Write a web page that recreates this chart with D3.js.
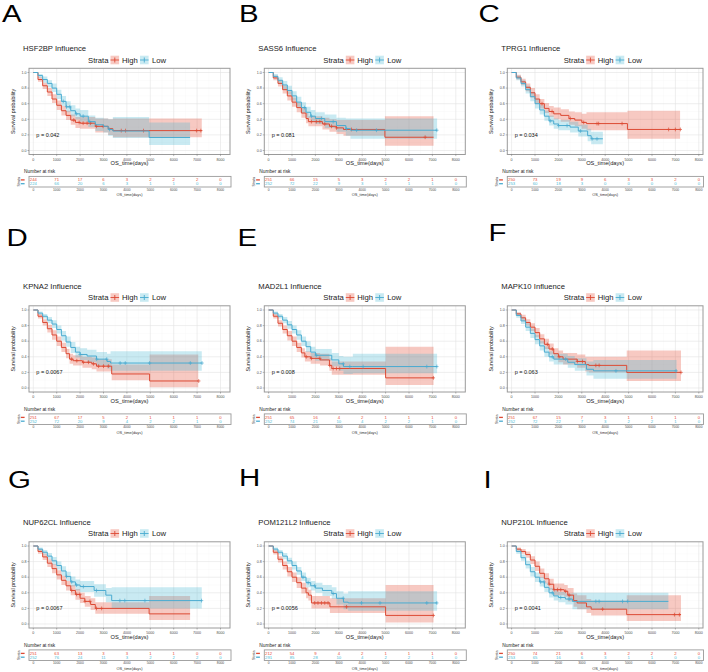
<!DOCTYPE html>
<html><head><meta charset="utf-8">
<script src="https://cdn.jsdelivr.net/npm/d3@7"></script>
<style>body{margin:0;background:#fff}svg{display:block;font-family:"Liberation Sans",Arial,sans-serif}</style>
</head><body><svg id="c" width="708" height="672"></svg>
<script>
const panelLetters = ["A","B","C","D","E","F","G","H","I"];
const genes = ["HSF2BP","SASS6","TPRG1","KPNA2","MAD2L1","MAPK10","NUP62CL","POM121L2","NUP210L"];
const pValues = ["0.042","0.081","0.034","0.0067","0.008","0.063","0.0067","0.0056","0.0041"];
const strata = ["High","Low"];
const strataColors = ["#E64B35","#4DBBD5"];
const lineColors = ["#DC4A34","#4AABD0"];
const xTicks = [0,1000,2000,3000,4000,5000,6000,7000,8000];
const yTicks = [0,0.2,0.4,0.6,0.8,1.0];

const riskHigh = [
  [244,71,17,6,3,2,2,2,0],[251,66,15,5,3,2,2,1,0],[250,73,19,9,6,3,3,2,0],
  [251,67,17,5,2,1,1,1,0],[251,65,16,4,2,1,1,1,0],[251,67,15,7,3,1,1,1,0],
  [251,63,13,3,3,1,1,0,0],[212,54,9,4,2,1,1,1,0],[250,74,21,6,3,2,2,2,0]];
const riskLow = [
  [224,66,20,6,3,1,1,0,0],[252,72,22,9,3,1,1,1,0],[253,60,18,3,0,0,0,0,0],
  [252,72,20,9,4,2,2,1,0],[252,74,21,10,4,2,2,1,0],[252,72,22,7,3,2,2,1,0],
  [252,76,24,11,3,2,2,2,0],[291,85,28,10,4,2,2,1,0],[253,65,16,6,3,1,1,0,0]];

// [time, survival, lower, upper]
const curvesHigh = [
  [[0,1,1,1],[200,.91,.88,.94],[400,.83,.79,.87],[600,.75,.70,.80],[800,.66,.61,.72],[1000,.58,.52,.64],[1200,.51,.45,.57],[1400,.45,.39,.51],[1600,.39,.33,.46],[1800,.36,.29,.43],[2000,.35,.28,.43],[2650,.31,.23,.41],[3200,.28,.20,.40],[3400,.255,.17,.41],[7200,.255,.17,.41]],
  [[0,1,1,1],[200,.93,.90,.96],[400,.86,.82,.90],[600,.78,.73,.83],[800,.70,.64,.76],[1000,.62,.56,.68],[1200,.55,.49,.61],[1400,.48,.42,.55],[1600,.41,.35,.48],[1700,.37,.31,.44],[2300,.34,.27,.42],[2600,.31,.24,.40],[2900,.29,.21,.39],[3200,.27,.19,.39],[4970,.17,.06,.44],[7050,.17,.06,.44]],
  [[0,1,1,1],[200,.94,.91,.97],[400,.88,.84,.92],[600,.81,.76,.86],[800,.74,.68,.80],[1000,.66,.60,.72],[1200,.60,.54,.66],[1400,.54,.48,.61],[1600,.50,.43,.57],[1800,.47,.40,.55],[2100,.45,.37,.53],[2450,.41,.33,.50],[2700,.39,.31,.49],[3000,.36,.28,.47],[3200,.345,.26,.49],[4950,.27,.15,.51],[7200,.27,.15,.51]],
  [[0,1,1,1],[200,.92,.89,.95],[400,.84,.80,.88],[600,.76,.71,.81],[800,.68,.62,.74],[1000,.60,.54,.66],[1200,.52,.46,.58],[1400,.44,.38,.50],[1550,.37,.31,.44],[1700,.35,.29,.42],[2100,.33,.26,.40],[2500,.31,.24,.39],[2700,.28,.21,.37],[3350,.18,.10,.30],[4970,.09,.01,.43],[7050,.09,.01,.43]],
  [[0,1,1,1],[200,.92,.89,.95],[400,.83,.79,.87],[600,.75,.70,.80],[800,.67,.61,.73],[1000,.60,.54,.66],[1200,.52,.46,.58],[1400,.45,.39,.51],[1550,.40,.34,.47],[1800,.38,.31,.45],[2200,.36,.29,.44],[2600,.29,.22,.38],[2700,.25,.17,.34],[5000,.13,.04,.53],[7050,.13,.04,.53]],
  [[0,1,1,1],[200,.95,.93,.97],[400,.90,.86,.94],[600,.84,.80,.88],[800,.78,.73,.83],[1000,.71,.65,.77],[1200,.63,.57,.69],[1400,.56,.50,.63],[1600,.50,.43,.57],[1800,.44,.37,.51],[2000,.40,.33,.48],[2200,.37,.30,.45],[2800,.34,.26,.43],[3150,.30,.21,.40],[3300,.29,.20,.40],[4920,.20,.09,.48],[7240,.20,.09,.48]],
  [[0,1,1,1],[200,.93,.90,.96],[400,.86,.82,.90],[600,.78,.73,.83],[800,.71,.65,.77],[1000,.63,.57,.69],[1200,.56,.50,.62],[1400,.49,.43,.55],[1600,.43,.37,.50],[1800,.38,.31,.45],[2000,.33,.27,.40],[2200,.29,.22,.36],[2450,.25,.18,.33],[2650,.20,.13,.28],[4950,.13,.05,.36],[6700,.13,.05,.36]],
  [[0,1,1,1],[200,.92,.89,.95],[400,.83,.79,.87],[600,.75,.70,.80],[800,.67,.61,.73],[1000,.60,.54,.66],[1200,.53,.46,.60],[1400,.46,.39,.53],[1600,.40,.33,.47],[1700,.37,.30,.44],[1830,.27,.20,.36],[2620,.22,.14,.33],[5000,.11,.02,.50],[7050,.11,.02,.50]],
  [[0,1,1,1],[200,.96,.94,.98],[400,.93,.90,.96],[600,.89,.85,.93],[800,.82,.77,.87],[1000,.74,.68,.80],[1200,.65,.59,.71],[1400,.58,.52,.65],[1600,.51,.44,.58],[1800,.44,.37,.52],[2250,.42,.35,.50],[2400,.37,.29,.46],[2650,.30,.22,.39],[2800,.27,.19,.37],[3200,.22,.14,.32],[3400,.19,.11,.30],[4920,.12,.04,.37],[7240,.12,.04,.37]]
];
const curvesLow = [
  [[0,1,1,1],[200,.96,.93,.98],[400,.91,.87,.95],[600,.86,.81,.90],[800,.80,.75,.86],[1000,.72,.66,.78],[1200,.63,.57,.70],[1400,.56,.49,.63],[1600,.51,.44,.58],[1800,.47,.40,.54],[2000,.44,.37,.52],[2350,.37,.30,.45],[2650,.33,.25,.42],[3000,.31,.23,.41],[3200,.27,.19,.40],[3400,.25,.16,.43],[4950,.167,.07,.36],[6700,.167,.07,.36]],
  [[0,1,1,1],[200,.95,.93,.98],[400,.90,.86,.94],[600,.84,.79,.89],[800,.77,.72,.83],[1000,.70,.64,.76],[1200,.62,.56,.69],[1400,.55,.48,.62],[1600,.49,.42,.56],[1800,.44,.37,.52],[2000,.41,.34,.49],[2400,.37,.29,.46],[2900,.32,.24,.42],[3300,.28,.19,.41],[3500,.26,.15,.41],[7200,.26,.15,.41]],
  [[0,1,1,1],[200,.93,.90,.96],[400,.86,.82,.90],[600,.78,.73,.83],[800,.69,.63,.75],[1000,.60,.54,.66],[1200,.52,.46,.58],[1400,.44,.38,.51],[1600,.38,.32,.45],[1800,.34,.28,.41],[2000,.32,.26,.39],[2500,.30,.23,.37],[2850,.25,.18,.33],[3250,.19,.12,.28],[3400,.15,.08,.24],[3900,.15,.08,.24]],
  [[0,1,1,1],[200,.96,.94,.98],[400,.92,.89,.95],[600,.87,.83,.91],[800,.82,.77,.87],[1000,.75,.70,.80],[1200,.67,.61,.73],[1400,.59,.53,.66],[1600,.52,.45,.59],[1800,.46,.39,.53],[2000,.43,.36,.51],[2300,.41,.33,.49],[2700,.37,.29,.46],[3150,.34,.25,.44],[3300,.32,.22,.47],[7200,.32,.22,.47]],
  [[0,1,1,1],[200,.96,.94,.98],[400,.92,.89,.95],[600,.87,.83,.91],[800,.81,.76,.86],[1000,.75,.70,.80],[1200,.68,.62,.74],[1400,.60,.54,.66],[1600,.53,.46,.60],[1800,.46,.39,.53],[2000,.42,.35,.50],[2700,.36,.28,.45],[3000,.31,.22,.41],[3200,.275,.18,.40],[3600,.275,.19,.44],[7200,.275,.19,.44]],
  [[0,1,1,1],[200,.93,.90,.96],[400,.86,.82,.90],[600,.78,.73,.83],[800,.70,.64,.76],[1000,.62,.56,.68],[1200,.54,.48,.60],[1400,.46,.40,.53],[1600,.40,.34,.47],[1800,.37,.30,.44],[2400,.33,.26,.41],[2700,.30,.22,.38],[3200,.24,.16,.34],[3500,.22,.12,.36],[7050,.22,.12,.36]],
  [[0,1,1,1],[200,.96,.94,.98],[400,.92,.89,.95],[600,.87,.83,.91],[800,.81,.76,.86],[1000,.75,.70,.80],[1200,.68,.62,.74],[1400,.61,.55,.67],[1600,.54,.48,.61],[1800,.50,.43,.57],[2000,.48,.41,.55],[2600,.43,.35,.51],[3100,.37,.28,.46],[3350,.30,.20,.47],[7200,.30,.20,.47]],
  [[0,1,1,1],[200,.96,.94,.98],[400,.92,.89,.95],[600,.87,.83,.91],[800,.81,.77,.85],[1000,.75,.70,.80],[1200,.68,.63,.73],[1400,.60,.55,.66],[1600,.53,.47,.59],[1800,.49,.43,.55],[2000,.46,.40,.53],[2300,.43,.36,.50],[2700,.39,.32,.47],[2900,.33,.25,.42],[3200,.28,.19,.39],[3400,.27,.17,.42],[7200,.27,.17,.42]],
  [[0,1,1,1],[200,.93,.90,.96],[400,.85,.81,.89],[600,.76,.71,.81],[800,.67,.61,.73],[1000,.60,.54,.66],[1200,.54,.48,.60],[1400,.47,.41,.53],[1600,.40,.34,.46],[1800,.36,.30,.43],[2000,.34,.28,.41],[2300,.32,.25,.39],[2600,.29,.19,.40],[6700,.29,.19,.40]]
];
const censorHigh = [
  [1730,1960,2130,2300,2440,2700,2980,3760,3940,4710,6980,7160],
  [1830,2040,2190,2400,2690,2900,3540,6690],
  [1300,1730,2510,3080,3650,3720,4720,6710,7000,7210],
  [1640,1860,2140,2360,2570,2790,3000,3210,7070],
  [1610,1830,2190,2610,2760,2900,3040,7040],
  [1530,1740,2030,2810,3030,3600,3740,7240],
  [1640,1850,1990,2210,2420,2700,2920],
  [1970,2110,2260,2400,2540,3330,7040],
  [1600,1810,1960,2100,2310,2460,3890,6960,7170]
];
const censorLow = [
  [1280,1420,1560,1840,2130,2410,3260],
  [1540,1830,2260,2760,3330,3760,4610,7190],
  [1650,2010,2370,2940,3440,3650],
  [2000,2710,3140,3710,3930,4970,6710,7210],
  [2040,3190,3470,4040,6760,7190],
  [1740,2310,4460,7030],
  [1420,1640,1850,2140,2700,3700,3910,4770,7190],
  [1470,1690,1970,2760,3190,3970,4760,6760,7190],
  [1240,1390,1740,2100,2460,3600,3740,4740,4960]
];

const svg = d3.select("#c");
const colX = [0, 235.3, 478.3], rowY = [0, 237.5, 473.5];
const letterPos = [[2,21.5],[239,21.5],[478.5,21.7],[6.5,245.5],[237.5,245.5],[488.5,241],[8,488],[239,486.3],[483.5,488]];

function survAt(curve, t) {
  let v = curve[0][1];
  for (const d of curve) { if (d[0] <= t) v = d[1]; }
  return v;
}

genes.forEach((gene, i) => {
  const ox = colX[i % 3], oy = rowY[Math.floor(i / 3)];
  const g = svg.append("g");
  const x = d3.scaleLinear().domain([0, 8000]).range([ox + 33.3, ox + 220.5]);
  const y = d3.scaleLinear().domain([0, 1]).range([oy + 150.5, oy + 72.5]);
  const bx0 = ox + 29, bx1 = Math.min(ox + 230, 703), by0 = oy + 68.3, by1 = oy + 154.5;
  const cx = (bx0 + bx1) / 2;

  g.append("text").attr("transform", `translate(${letterPos[i][0]},${letterPos[i][1]}) scale(1.28,1)`)
    .attr("font-size", 23).attr("fill", "#000").text(panelLetters[i]);

  g.append("text").attr("x", ox + 23).attr("y", oy + 51).attr("font-size", 7.7).attr("fill", "#222").text(gene + " Influence");

  const L = cx - 2.5 - 39, ly = oy + 60;
  g.append("text").attr("x", L).attr("y", ly + 2.8).attr("font-size", 7.7).attr("fill", "#222").text("Strata");
  strata.forEach((s, k) => {
    const kx = L + (k === 0 ? 22.5 : 52);
    g.append("rect").attr("x", kx).attr("y", ly - 4.3).attr("width", 8.6).attr("height", 8.6)
      .attr("fill", strataColors[k]).attr("fill-opacity", 0.3);
    g.append("line").attr("x1", kx).attr("x2", kx + 8.6).attr("y1", ly).attr("y2", ly)
      .attr("stroke", lineColors[k]).attr("stroke-width", 0.9);
    g.append("line").attr("x1", kx + 4.3).attr("x2", kx + 4.3).attr("y1", ly - 2.5).attr("y2", ly + 2.5)
      .attr("stroke", lineColors[k]).attr("stroke-width", 0.9);
    g.append("text").attr("x", L + (k === 0 ? 34 : 64)).attr("y", ly + 2.8).attr("font-size", 7.7).attr("fill", "#222").text(s);
  });

  const clipId = "clip" + i;
  svg.append("clipPath").attr("id", clipId).append("rect").attr("x", bx0).attr("y", by0).attr("width", bx1 - bx0).attr("height", by1 - by0);
  const grid = g.append("g").attr("clip-path", `url(#${clipId})`);
  const minorX = d3.range(500, 8500, 1000), minorY = [0.1, 0.3, 0.5, 0.7, 0.9];
  minorX.forEach(t => grid.append("line").attr("x1", x(t)).attr("x2", x(t)).attr("y1", by0).attr("y2", by1).attr("stroke", "#f2f2f2").attr("stroke-width", 0.35));
  minorY.forEach(v => grid.append("line").attr("x1", bx0).attr("x2", bx1).attr("y1", y(v)).attr("y2", y(v)).attr("stroke", "#f2f2f2").attr("stroke-width", 0.35));
  xTicks.forEach(t => grid.append("line").attr("x1", x(t)).attr("x2", x(t)).attr("y1", by0).attr("y2", by1).attr("stroke", "#e3e3e3").attr("stroke-width", 0.6));
  yTicks.forEach(v => grid.append("line").attr("x1", bx0).attr("x2", bx1).attr("y1", y(v)).attr("y2", y(v)).attr("stroke", "#e3e3e3").attr("stroke-width", 0.6));

  const plotG = g.append("g").attr("clip-path", `url(#${clipId})`);
  const area = d3.area().x(d => x(d[0])).y0(d => y(d[2])).y1(d => y(d[3])).curve(d3.curveStepAfter);
  const line = d3.line().x(d => x(d[0])).y(d => y(d[1])).curve(d3.curveStepAfter);
  const curves = [curvesHigh[i], curvesLow[i]];
  const cens = [censorHigh[i], censorLow[i]];
  curves.forEach((c, k) => plotG.append("path").attr("d", area(c)).attr("fill", strataColors[k]).attr("fill-opacity", 0.3));
  curves.forEach((c, k) => {
    plotG.append("path").attr("d", line(c)).attr("fill", "none").attr("stroke", lineColors[k]).attr("stroke-width", 1);
    cens[k].forEach(t => {
      const px = x(t), py = y(survAt(c, t));
      plotG.append("path").attr("d", `M${px - 1.7},${py}h3.4M${px},${py - 1.9}v3.8`).attr("stroke", lineColors[k]).attr("stroke-width", 0.7).attr("fill", "none");
    });
  });

  g.append("rect").attr("x", bx0).attr("y", by0).attr("width", bx1 - bx0).attr("height", by1 - by0)
    .attr("fill", "none").attr("stroke", "#9a9a9a").attr("stroke-width", 1);

  xTicks.forEach(t => {
    g.append("line").attr("x1", x(t)).attr("x2", x(t)).attr("y1", by1).attr("y2", by1 + 1.6).attr("stroke", "#555").attr("stroke-width", 0.4);
    g.append("text").attr("x", x(t)).attr("y", oy + 160.5).attr("text-anchor", "middle").attr("font-size", 3.6).attr("fill", "#4d4d4d").text(t);
  });
  yTicks.forEach(v => {
    g.append("line").attr("x1", bx0 - 1.6).attr("x2", bx0).attr("y1", y(v)).attr("y2", y(v)).attr("stroke", "#555").attr("stroke-width", 0.4);
    g.append("text").attr("x", bx0 - 2.6).attr("y", y(v) + 1.2).attr("text-anchor", "end").attr("font-size", 3.6).attr("fill", "#4d4d4d").text(v.toFixed(1));
  });
  g.append("text").attr("x", cx).attr("y", oy + 165.2).attr("text-anchor", "middle").attr("font-size", 5.7).attr("fill", "#222").text("OS_time(days)");
  g.append("text").attr("transform", `translate(${ox + 15},${(by0 + by1) / 2}) rotate(-90)`).attr("text-anchor", "middle")
    .attr("font-size", 5.4).attr("fill", "#222").text("Survival probability");

  g.append("text").attr("x", x(130)).attr("y", y(0.2) + 2).attr("font-size", 5.5).attr("fill", "#111").text("p = " + pValues[i]);

  g.append("text").attr("x", ox + 24).attr("y", oy + 173.3).attr("font-size", 4.8).attr("fill", "#222").text("Number at risk");
  const tx0 = ox + 29, tx1 = Math.min(ox + 231, 703.5), ty0 = oy + 176.4, ty1 = oy + 187;
  g.append("rect").attr("x", tx0).attr("y", ty0).attr("width", tx1 - tx0).attr("height", ty1 - ty0)
    .attr("fill", "none").attr("stroke", "#9a9a9a").attr("stroke-width", 0.9);
  const rowYs = [oy + 179.9, oy + 183.7];
  [riskHigh[i], riskLow[i]].forEach((arr, k) => {
    arr.forEach((n, j) => {
      g.append("text").attr("x", x(xTicks[j])).attr("y", rowYs[k] + 1.4).attr("text-anchor", "middle")
        .attr("font-size", 4.2).attr("fill", strataColors[k]).text(n);
    });
    g.append("line").attr("x1", ox + 20.8).attr("x2", ox + 24.6).attr("y1", rowYs[k]).attr("y2", rowYs[k])
      .attr("stroke", lineColors[k]).attr("stroke-width", 1.3);
  });
  g.append("text").attr("transform", `translate(${ox + 19.6},${oy + 181.7}) rotate(-90)`).attr("text-anchor", "middle")
    .attr("font-size", 3.6).attr("fill", "#333").text("Strata");
  xTicks.forEach(t => {
    g.append("text").attr("x", x(t)).attr("y", oy + 190.6).attr("text-anchor", "middle").attr("font-size", 3.3).attr("fill", "#4d4d4d").text(t);
  });
  g.append("text").attr("x", cx).attr("y", oy + 196.4).attr("text-anchor", "middle").attr("font-size", 3.9).attr("fill", "#333").text("OS_time(days)");
});
</script>
</body></html>
